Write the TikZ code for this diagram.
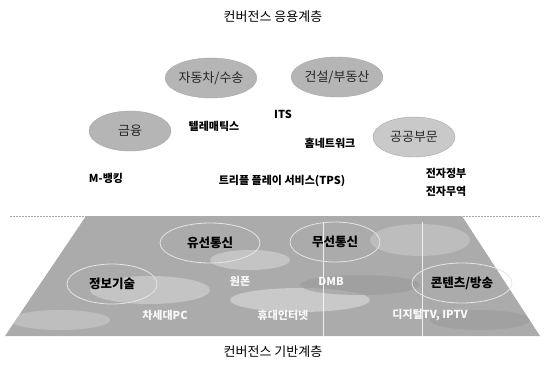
\documentclass[tikz,border=0pt]{standalone}
\usepackage{fontspec}
\newfontfamily\kr{Noto Sans CJK KR}
\usetikzlibrary{shapes.geometric}
\begin{document}
\begin{tikzpicture}[x=1pt,y=-1pt,
  title/.style={font=\kr\fontsize{13}{15}\selectfont, inner sep=0pt},
  appell/.style={ellipse, draw=gray!70, fill=gray!58, minimum width=82pt, minimum height=40pt, inner sep=0pt, font=\kr\fontsize{13}{15}\selectfont, text=black!85},
  baseell/.style={ellipse, draw=gray!20, line width=0.8pt, minimum width=90pt, minimum height=40pt, inner sep=0pt, font=\kr\bfseries\fontsize{12.5}{15}\selectfont, text=black},
  lbl/.style={font=\kr\bfseries\fontsize{11}{13}\selectfont, inner sep=1pt, text=black},
  wlbl/.style={font=\kr\bfseries\fontsize{11}{13}\selectfont, inner sep=1pt, text=white!95!gray}
]
\useasboundingbox (0,0) rectangle (546,367);
\fill[white] (0,0) rectangle (546,367);

% ---------- application layer ----------
\node[title] (ttop) at (273,17) {컨버전스 응용계층};
\node[appell] (car) at (211,78) {자동차/수송};
\node[appell] (build) at (337,77) {건설/부동산};
\node[appell] (fin) at (130,131) {금융};
\node[appell, fill=gray!42] (pub) at (414,137) {공공부문};

\node[lbl] (its) at (283,114) {ITS};
\node[lbl] (tel) at (214,126) {텔레매틱스};
\node[lbl] (home) at (330,143) {홈네트워크};
\node[lbl] (mbank) at (106,178) {M-뱅킹};
\node[lbl] (tps) at (282,181) {트리플 플레이 서비스(TPS)};
\node[lbl] (egov) at (446,173) {전자정부};
\node[lbl] (etrade) at (446,191) {전자무역};

% ---------- base layer ----------
\draw[gray!70, dash pattern=on 2pt off 1pt, line width=0.8pt] (10,216) -- (540,216);
\coordinate (tl) at (86,216);
\coordinate (tr) at (462,216);
\coordinate (br) at (540,336);
\coordinate (bl) at (5,336);
\begin{scope}
\clip (tl) -- (tr) -- (br) -- (bl) -- cycle;
\fill[gray!66] (0,210) rectangle (546,340);
\fill[gray!38, opacity=0.7] (150,290) ellipse (60pt and 14pt);
\fill[gray!32, opacity=0.7] (300,300) ellipse (70pt and 12pt);
\fill[gray!42, opacity=0.6] (420,240) ellipse (50pt and 16pt);
\fill[gray!40, opacity=0.6] (60,320) ellipse (50pt and 10pt);
\fill[gray!32, opacity=0.6] (250,260) ellipse (40pt and 10pt);
\fill[gray!80, opacity=0.6] (360,285) ellipse (60pt and 10pt);
\fill[gray!80, opacity=0.5] (480,320) ellipse (50pt and 10pt);
\draw[white, line width=1pt, opacity=0.8] (323,222) -- (323,336);
\draw[white, line width=1pt, opacity=0.8] (422,222) -- (422,336);
\end{scope}

\node[baseell] (it) at (112,284) {정보기술};
\node[baseell, minimum width=100pt] (wired) at (210,243) {유선통신};
\node[baseell] (wless) at (335,242) {무선통신};
\node[baseell, minimum width=100pt] (cont) at (462,283) {콘텐츠/방송};

\node[wlbl] (onep) at (240,281) {원폰};
\node[wlbl] (dmb) at (331,281) {DMB};
\node[wlbl] (npc) at (165,315) {차세대PC};
\node[wlbl] (wibro) at (283,315) {휴대인터넷};
\node[wlbl] (dtv) at (430,315) {디지털TV, IPTV};

\node[title] (tbot) at (273,352) {컨버전스 기반계층};
\end{tikzpicture}
\end{document}
